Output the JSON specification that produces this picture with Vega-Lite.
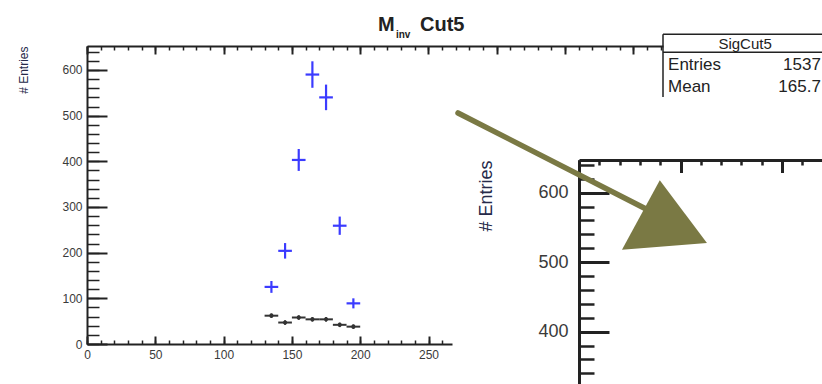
{
  "$schema": "https://vega.github.io/schema/vega-lite/v6.json",
  "width": 365,
  "height": 298,
  "autosize": {"type": "none"},
  "padding": {"left": 87, "top": 46, "right": 370, "bottom": 40},
  "background": "white",
  "config": {
    "view": {"stroke": null},
    "font": "Liberation Sans",
    "axis": {
      "grid": false,
      "labelFlush": false,
      "labelOverlap": false,
      "labelFont": "Liberation Sans",
      "titleFont": "Liberation Sans",
      "titleFontWeight": "normal",
      "tickColor": "#222222",
      "domainColor": "#222222",
      "labelColor": "#3a3a3a",
      "titleColor": "#262a4a"
    }
  },
  "datasets": {
    "sig": [
      {"mass": 135, "binLow": 130, "binHigh": 140, "entries": 125, "low": 112, "high": 138},
      {"mass": 145, "binLow": 140, "binHigh": 150, "entries": 204, "low": 187, "high": 221},
      {"mass": 155, "binLow": 150, "binHigh": 160, "entries": 403, "low": 379, "high": 427},
      {"mass": 165, "binLow": 160, "binHigh": 170, "entries": 590, "low": 561, "high": 619},
      {"mass": 175, "binLow": 170, "binHigh": 180, "entries": 540, "low": 512, "high": 568},
      {"mass": 185, "binLow": 180, "binHigh": 190, "entries": 259, "low": 239, "high": 279},
      {"mass": 195, "binLow": 190, "binHigh": 200, "entries": 89, "low": 78, "high": 100}
    ],
    "bkg": [
      {"mass": 135, "binLow": 130, "binHigh": 140, "entries": 62, "low": 57, "high": 67},
      {"mass": 145, "binLow": 140, "binHigh": 150, "entries": 47, "low": 42, "high": 52},
      {"mass": 155, "binLow": 150, "binHigh": 160, "entries": 58, "low": 53, "high": 63},
      {"mass": 165, "binLow": 160, "binHigh": 170, "entries": 54, "low": 49, "high": 59},
      {"mass": 175, "binLow": 170, "binHigh": 180, "entries": 54, "low": 49, "high": 59},
      {"mass": 185, "binLow": 180, "binHigh": 190, "entries": 42, "low": 37, "high": 47},
      {"mass": 195, "binLow": 190, "binHigh": 200, "entries": 38, "low": 33, "high": 43}
    ],
    "arrow": [
      {"mass": -59.6, "entries": 714.7},
      {"mass": 34.0, "entries": 575.1}
    ]
  },
  "layer": [
    {
      "layer": [
        {
          "data": {"name": "sig"},
          "mark": {"type": "rule", "color": "#3b3bff", "strokeWidth": 2.2},
          "encoding": {
            "x": {"field": "mass", "type": "quantitative",
              "scale": {"domain": [0, 267.2], "nice": false, "zero": false},
              "axis": {"orient": "bottom", "values": [0, 50, 100, 150, 200, 250], "tickSize": -8, "tickWidth": 2, "domainWidth": 2, "labelFontSize": 12, "labelPadding": 13, "title": null}},
            "y": {"field": "low", "type": "quantitative",
              "scale": {"domain": [0, 652.5], "nice": false, "zero": false},
              "axis": {"orient": "left", "values": [0, 100, 200, 300, 400, 500, 600], "tickSize": -20, "tickWidth": 2, "domainWidth": 2, "labelFontSize": 12, "labelPadding": 25, "title": "# Entries", "titleFontSize": 12, "titleAnchor": "end", "titlePadding": 31}},
            "y2": {"field": "high"}
          }
        },
        {
          "data": {"name": "sig"},
          "mark": {"type": "rule", "color": "#3b3bff", "strokeWidth": 2.2},
          "encoding": {
            "x": {"field": "binLow", "type": "quantitative",
              "scale": {"domain": [0, 267.2], "nice": false, "zero": false},
              "axis": {"orient": "bottom", "values": [0, 10, 20, 30, 40, 50, 60, 70, 80, 90, 100, 110, 120, 130, 140, 150, 160, 170, 180, 190, 200, 210, 220, 230, 240, 250, 260], "tickSize": -4, "tickWidth": 1.5, "labels": false, "domain": false, "title": null}},
            "x2": {"field": "binHigh"},
            "y": {"field": "entries", "type": "quantitative",
              "scale": {"domain": [0, 652.5], "nice": false, "zero": false},
              "axis": {"orient": "left", "values": [0, 20, 40, 60, 80, 100, 120, 140, 160, 180, 200, 220, 240, 260, 280, 300, 320, 340, 360, 380, 400, 420, 440, 460, 480, 500, 520, 540, 560, 580, 600, 620, 640], "tickSize": -12, "tickWidth": 1.5, "labels": false, "domain": false, "title": null}}
          }
        },
        {
          "data": {"name": "bkg"},
          "mark": {"type": "rule", "color": "#333333", "strokeWidth": 2},
          "encoding": {
            "x": {"field": "mass", "type": "quantitative", "scale": {"domain": [0, 267.2], "nice": false, "zero": false}, "axis": null},
            "y": {"field": "low", "type": "quantitative", "scale": {"domain": [0, 652.5], "nice": false, "zero": false}, "axis": null},
            "y2": {"field": "high"}
          }
        },
        {
          "data": {"name": "bkg"},
          "mark": {"type": "rule", "color": "#333333", "strokeWidth": 2},
          "encoding": {
            "x": {"field": "binLow", "type": "quantitative", "scale": {"domain": [0, 267.2], "nice": false, "zero": false}, "axis": null},
            "x2": {"field": "binHigh"},
            "y": {"field": "entries", "type": "quantitative", "scale": {"domain": [0, 652.5], "nice": false, "zero": false}, "axis": null}
          }
        },
        {
          "data": {"name": "bkg"},
          "mark": {"type": "point", "shape": "circle", "filled": true, "color": "#333333", "size": 18, "opacity": 1},
          "encoding": {
            "x": {"field": "mass", "type": "quantitative", "scale": {"domain": [0, 267.2], "nice": false, "zero": false}, "axis": null},
            "y": {"field": "entries", "type": "quantitative", "scale": {"domain": [0, 652.5], "nice": false, "zero": false}, "axis": null}
          }
        }
      ],
      "resolve": {"axis": {"x": "independent", "y": "independent"}}
    },
    {
      "data": {"values": [{}]},
      "layer": [
        {
          "mark": {"type": "text", "text": "M", "font": "Liberation Sans", "fontSize": 20, "fontWeight": "bold", "align": "left", "baseline": "alphabetic", "color": "#222222"},
          "encoding": {
            "x": {"datum": 213.0, "type": "quantitative",
              "scale": {"domain": [0, 421.7], "range": [0, 576], "nice": false, "zero": false},
              "axis": {"orient": "top", "values": [0, 50, 100, 150, 200, 250, 300, 350, 400], "tickSize": -8, "tickWidth": 2, "domainWidth": 2, "labels": false, "title": null}},
            "y": {"datum": 686.0, "type": "quantitative", "scale": {"domain": [0, 652.5], "nice": false, "zero": false}, "axis": null}
          }
        },
        {
          "mark": {"type": "text", "text": "inv", "font": "Liberation Sans", "fontSize": 10, "fontWeight": "bold", "align": "left", "baseline": "alphabetic", "color": "#222222"},
          "encoding": {
            "x": {"datum": 226.2, "type": "quantitative",
              "scale": {"domain": [0, 421.7], "range": [0, 576], "nice": false, "zero": false},
              "axis": {"orient": "top", "values": [0, 10, 20, 30, 40, 50, 60, 70, 80, 90, 100, 110, 120, 130, 140, 150, 160, 170, 180, 190, 200, 210, 220, 230, 240, 250, 260, 270, 280, 290, 300, 310, 320, 330, 340, 350, 360, 370, 380, 390, 400, 410, 420], "tickSize": -4, "tickWidth": 1.5, "labels": false, "domain": false, "title": null}},
            "y": {"datum": 670.0, "type": "quantitative", "scale": {"domain": [0, 652.5], "nice": false, "zero": false}, "axis": null}
          }
        },
        {
          "mark": {"type": "text", "text": "Cut5", "font": "Liberation Sans", "fontSize": 20, "fontWeight": "bold", "align": "left", "baseline": "alphabetic", "color": "#222222"},
          "encoding": {
            "x": {"datum": 243.8, "type": "quantitative", "scale": {"domain": [0, 421.7], "range": [0, 576], "nice": false, "zero": false}, "axis": null},
            "y": {"datum": 686.0, "type": "quantitative", "scale": {"domain": [0, 652.5], "nice": false, "zero": false}, "axis": null}
          }
        },
        {
          "mark": {"type": "rule", "color": "#222222", "strokeWidth": 1.5},
          "encoding": {
            "x": {"datum": 421.7, "type": "quantitative", "scale": {"domain": [0, 421.7], "range": [0, 576], "nice": false, "zero": false}, "axis": null},
            "x2": {"datum": 600},
            "y": {"datum": 678.1, "type": "quantitative", "scale": {"domain": [0, 652.5], "nice": false, "zero": false}, "axis": null}
          }
        },
        {
          "mark": {"type": "rule", "color": "#222222", "strokeWidth": 1.5},
          "encoding": {
            "x": {"datum": 421.7, "type": "quantitative", "scale": {"domain": [0, 421.7], "range": [0, 576], "nice": false, "zero": false}, "axis": null},
            "x2": {"datum": 600},
            "y": {"datum": 638.7, "type": "quantitative", "scale": {"domain": [0, 652.5], "nice": false, "zero": false}, "axis": null}
          }
        },
        {
          "mark": {"type": "rule", "color": "#222222", "strokeWidth": 1.5},
          "encoding": {
            "x": {"datum": 421.7, "type": "quantitative", "scale": {"domain": [0, 421.7], "range": [0, 576], "nice": false, "zero": false}, "axis": null},
            "y": {"datum": 678.1, "type": "quantitative", "scale": {"domain": [0, 652.5], "nice": false, "zero": false}, "axis": null},
            "y2": {"datum": 540.8}
          }
        },
        {
          "mark": {"type": "text", "text": "SigCut5", "font": "Liberation Sans", "fontSize": 15, "align": "center", "baseline": "alphabetic", "color": "#222222"},
          "encoding": {
            "x": {"datum": 481.8, "type": "quantitative", "scale": {"domain": [0, 421.7], "range": [0, 576], "nice": false, "zero": false}, "axis": null},
            "y": {"datum": 647.0, "type": "quantitative", "scale": {"domain": [0, 652.5], "nice": false, "zero": false}, "axis": null}
          }
        },
        {
          "mark": {"type": "text", "text": "Entries", "font": "Liberation Sans", "fontSize": 17, "align": "left", "baseline": "alphabetic", "color": "#222222"},
          "encoding": {
            "x": {"datum": 425.4, "type": "quantitative", "scale": {"domain": [0, 421.7], "range": [0, 576], "nice": false, "zero": false}, "axis": null},
            "y": {"datum": 600.0, "type": "quantitative", "scale": {"domain": [0, 652.5], "nice": false, "zero": false}, "axis": null}
          }
        },
        {
          "mark": {"type": "text", "text": "1537", "font": "Liberation Sans", "fontSize": 17, "align": "right", "baseline": "alphabetic", "color": "#222222"},
          "encoding": {
            "x": {"datum": 537.3, "type": "quantitative", "scale": {"domain": [0, 421.7], "range": [0, 576], "nice": false, "zero": false}, "axis": null},
            "y": {"datum": 600.0, "type": "quantitative", "scale": {"domain": [0, 652.5], "nice": false, "zero": false}, "axis": null}
          }
        },
        {
          "mark": {"type": "text", "text": "Mean", "font": "Liberation Sans", "fontSize": 17, "align": "left", "baseline": "alphabetic", "color": "#222222"},
          "encoding": {
            "x": {"datum": 425.4, "type": "quantitative", "scale": {"domain": [0, 421.7], "range": [0, 576], "nice": false, "zero": false}, "axis": null},
            "y": {"datum": 551.0, "type": "quantitative", "scale": {"domain": [0, 652.5], "nice": false, "zero": false}, "axis": null}
          }
        },
        {
          "mark": {"type": "text", "text": "165.7", "font": "Liberation Sans", "fontSize": 17, "align": "right", "baseline": "alphabetic", "color": "#222222"},
          "encoding": {
            "x": {"datum": 537.3, "type": "quantitative", "scale": {"domain": [0, 421.7], "range": [0, 576], "nice": false, "zero": false}, "axis": null},
            "y": {"datum": 551.0, "type": "quantitative", "scale": {"domain": [0, 652.5], "nice": false, "zero": false}, "axis": null}
          }
        }
      ],
      "resolve": {"axis": {"x": "independent", "y": "independent"}}
    },
    {
      "layer": [
        {
          "data": {"name": "arrow"},
          "mark": {"type": "line", "color": "#7a7944", "strokeWidth": 5.5, "strokeCap": "round"},
          "encoding": {
            "x": {"field": "mass", "type": "quantitative",
              "scale": {"domain": [0, 120], "range": [492, 735.6], "nice": false, "zero": false},
              "axis": {"orient": "top", "offset": -114, "values": [0, 50, 100], "tickSize": -12.5, "tickWidth": 3, "domainWidth": 3, "labels": false, "title": null}},
            "y": {"field": "entries", "type": "quantitative",
              "scale": {"domain": [0, 647], "range": [563.7, 114], "nice": false, "zero": false},
              "axis": {"orient": "left", "offset": -492, "values": [400, 500, 600], "tickSize": -30, "tickWidth": 3, "domainWidth": 3, "labelFontSize": 18, "labelPadding": 41, "title": "# Entries", "titleFontSize": 18, "titleAnchor": "end", "titlePadding": 42}}
          }
        },
        {
          "data": {"values": [{}]},
          "mark": {"type": "point", "shape": "M-0.11,-0.82L1,0.66L-1,0.82Z", "filled": true, "color": "#7a7944", "size": 7225, "opacity": 1},
          "encoding": {
            "x": {"datum": 42.1, "type": "quantitative",
              "scale": {"domain": [0, 120], "range": [492, 735.6], "nice": false, "zero": false},
              "axis": {"orient": "top", "offset": -114, "values": [0, 10, 20, 30, 40, 50, 60, 70, 80, 90, 100, 110, 120], "tickSize": -5, "tickWidth": 2.5, "labels": false, "domain": false, "title": null}},
            "y": {"datum": 567.9, "type": "quantitative",
              "scale": {"domain": [0, 647], "range": [563.7, 114], "nice": false, "zero": false},
              "axis": {"orient": "left", "offset": -492, "values": [320, 340, 360, 380, 400, 420, 440, 460, 480, 500, 520, 540, 560, 580, 600, 620, 640], "tickSize": -15, "tickWidth": 2.5, "labels": false, "domain": false, "title": null}}
          }
        }
      ],
      "resolve": {"axis": {"x": "independent", "y": "independent"}}
    }
  ],
  "resolve": {
    "scale": {"x": "independent", "y": "independent"},
    "axis": {"x": "independent", "y": "independent"}
  }
}
